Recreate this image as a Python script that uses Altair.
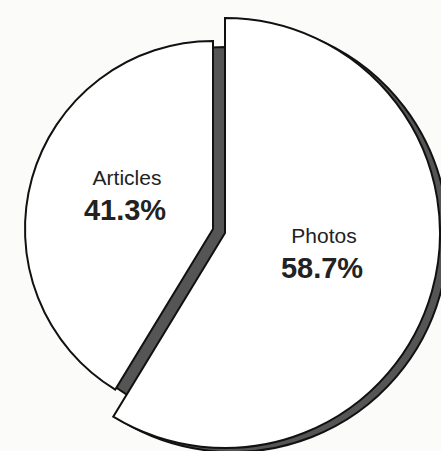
import altair as alt
import pandas as pd

categories = ["Photos", "Articles"]
values = [58.7, 41.3]
labels = ["58.7%", "41.3%"]

df = pd.DataFrame({"category": categories, "value": values, "label": labels})

base = alt.Chart(df).transform_window(
    end="sum(value)", frame=[None, 0]
).transform_calculate(start="datum.end - datum.value")

theta_scale = alt.Scale(domain=[0, 100], range=[0, 6.283185])

def slice_layer(cat, cx, cy, r, fill, sw=2):
    return base.transform_filter(alt.datum.category == cat).mark_arc(
        outerRadius=r, fill=fill, stroke="#111", strokeWidth=sw, strokeJoin="miter"
    ).encode(
        theta=alt.Theta("start:Q", scale=theta_scale),
        theta2="end:Q",
        x=alt.value(cx),
        y=alt.value(cy),
    )

# centers / radii
pcx, pcy, pr = 225, 233, 215
acx, acy, ar = 213, 229, 188

photos_shadow = slice_layer("Photos", pcx + 8, pcy + 4, pr, "#555555")
articles_shadow = slice_layer("Articles", acx + 13, acy + 6, ar, "#555555")
articles = slice_layer("Articles", acx, acy, ar, "white")
photos = slice_layer("Photos", pcx, pcy, pr, "white")

def text_layer(cat, field, x, y, size, weight):
    return base.transform_filter(alt.datum.category == cat).mark_text(
        font="Liberation Sans", fontSize=size, fontWeight=weight, color="#222",
        align="center", baseline="middle"
    ).encode(text=f"{field}:N", x=alt.value(x), y=alt.value(y))

t1 = text_layer("Articles", "category", 127, 179, 21, "normal")
t2 = text_layer("Articles", "label", 125, 211, 29, "bold")
t3 = text_layer("Photos", "category", 324, 237, 21, "normal")
t4 = text_layer("Photos", "label", 322, 269, 29, "bold")

chart = alt.layer(
    photos_shadow, articles_shadow, articles, photos, t1, t2, t3, t4
).properties(
    width=441, height=451, autosize="none", padding=0, background="#fbfbfa"
).configure_view(stroke=None)

chart.save("out.html", embed_options={"renderer": "svg", "actions": False})
